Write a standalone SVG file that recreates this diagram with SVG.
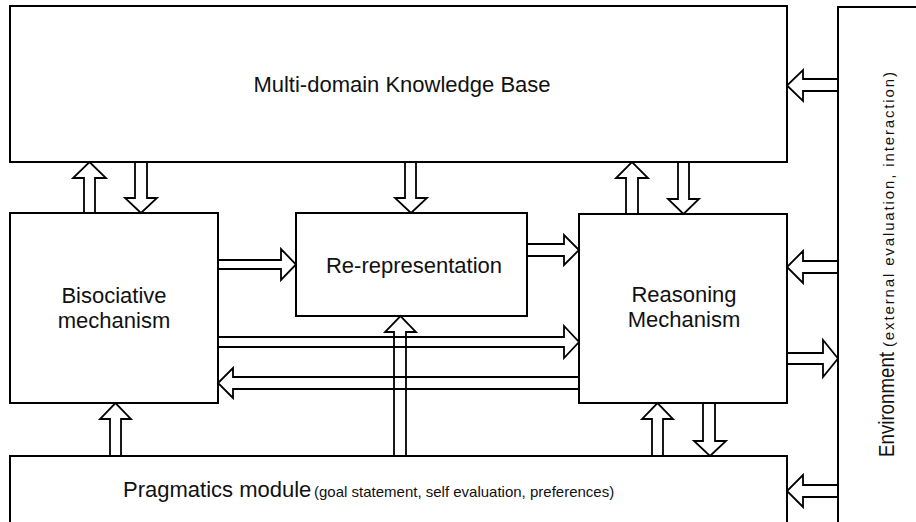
<svg xmlns="http://www.w3.org/2000/svg" width="916" height="522" viewBox="0 0 916 522">
  <style>
    .box { fill: #ffffff; stroke: #000000; stroke-width: 2; }
    .arrow { fill: none; stroke: #000000; stroke-width: 1.8; stroke-linejoin: miter; }
    .label { font-family: "Liberation Sans", Arial, sans-serif; font-size: 22px; fill: #111111; }
    .small { font-family: "Liberation Sans", Arial, sans-serif; font-size: 15px; fill: #111111; }
  </style>
  <rect x="0" y="0" width="916" height="522" fill="#ffffff"/>

  <!-- modules -->
  <g id="knowledge-base">
    <rect class="box" x="10" y="6" width="777" height="156"/>
    <text class="label" x="402" y="91.5" text-anchor="middle">Multi-domain Knowledge Base</text>
  </g>
  <g id="environment">
    <rect class="box" x="838" y="7" width="100" height="530"/>
    <text class="label" transform="translate(894,457) rotate(-90)" font-size="20" textLength="105" lengthAdjust="spacingAndGlyphs">Environment</text>
    <text class="small" transform="translate(894,347) rotate(-90)" font-size="13" textLength="275" lengthAdjust="spacing">(external evaluation, interaction)</text>
  </g>
  <g id="bisociative">
    <rect class="box" x="10" y="213" width="208" height="190"/>
    <text class="label" x="114" y="303" text-anchor="middle">Bisociative</text>
    <text class="label" x="114" y="328" text-anchor="middle">mechanism</text>
  </g>
  <g id="re-representation">
    <rect class="box" x="296" y="213" width="231" height="103"/>
    <text class="label" x="414" y="273" text-anchor="middle">Re-representation</text>
  </g>
  <g id="reasoning">
    <rect class="box" x="579" y="214" width="208" height="189"/>
    <text class="label" x="684" y="301.5" text-anchor="middle">Reasoning</text>
    <text class="label" x="684" y="326.5" text-anchor="middle">Mechanism</text>
  </g>
  <g id="pragmatics">
    <rect class="box" x="10" y="456" width="777" height="90"/>
    <text x="123" y="497"><tspan class="label">Pragmatics module</tspan><tspan class="small" x="314">(goal statement, self evaluation, preferences)</tspan></text>
  </g>

  <!-- block arrows between modules -->
  <g id="connectors">
    <!-- bisociative -> knowledge base -->
    <path class="arrow" d="M84,213 V178 H73 L89.5,162 L106,178 H95 V213"/>
    <!-- knowledge base -> bisociative -->
    <path class="arrow" d="M135,162 V198 H125 L141,213 L157,198 H147 V162"/>
    <!-- knowledge base -> re-representation -->
    <path class="arrow" d="M405,162 V198 H395 L411,213 L427,198 H416 V162"/>
    <!-- reasoning -> knowledge base -->
    <path class="arrow" d="M626,214 V178 H616 L632,162 L648,178 H638 V214"/>
    <!-- knowledge base -> reasoning -->
    <path class="arrow" d="M678,162 V199 H668 L683.5,214 L699,199 H689 V162"/>
    <!-- bisociative -> re-representation -->
    <path class="arrow" d="M218,260 H281 V249 L296,264.5 L281,280 V269 H218"/>
    <!-- re-representation -> reasoning -->
    <path class="arrow" d="M527,244 H564 V235 L579,250 L564,265 V256 H527"/>
    <!-- bisociative -> reasoning -->
    <path class="arrow" d="M218,337 H564 V326 L579,342 L564,358 V347 H218"/>
    <!-- reasoning -> bisociative -->
    <path class="arrow" d="M579,377 H233 V368 L218,383 L233,398 V389 H579"/>
    <!-- pragmatics -> re-representation -->
    <path class="arrow" d="M394,456 V332 H385 L400.5,316 L416,332 H406 V456"/>
    <!-- pragmatics -> bisociative -->
    <path class="arrow" d="M110,456 V419 H100 L115.5,403 L131,419 H121 V456"/>
    <!-- pragmatics -> reasoning -->
    <path class="arrow" d="M652,456 V419 H642 L657.5,403 L673,419 H663 V456"/>
    <!-- reasoning -> pragmatics -->
    <path class="arrow" d="M703,403 V441 H694 L710,456 L726,441 H715 V403"/>
    <!-- environment -> knowledge base -->
    <path class="arrow" d="M838,79 H803 V70 L787,85.5 L803,101 V91 H838"/>
    <!-- environment -> reasoning -->
    <path class="arrow" d="M838,261 H803 V251 L787,267 L803,283 V273 H838"/>
    <!-- reasoning -> environment -->
    <path class="arrow" d="M787,353 H823 V340 L838,358.5 L823,377 V364 H787"/>
    <!-- environment -> pragmatics -->
    <path class="arrow" d="M838,485 H803 V475 L787,491 L803,507 V497 H838"/>
  </g>
</svg>
